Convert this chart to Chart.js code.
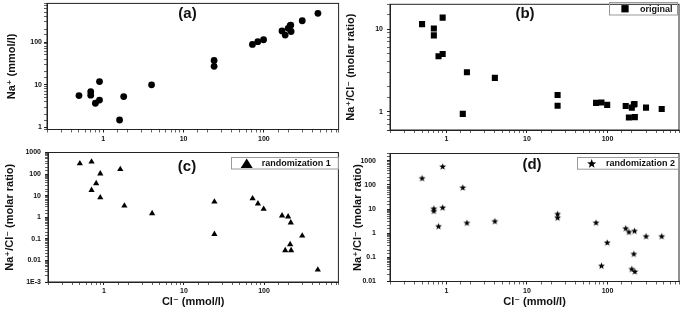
<!DOCTYPE html>
<html>
<head>
<meta charset="utf-8">
<script src="https://cdn.jsdelivr.net/npm/chart.js@4.4.0/dist/chart.umd.min.js"></script>
<style>
  html, body { margin: 0; padding: 0; background: #fff; }
  body { width: 685px; height: 321px; position: relative; overflow: hidden; }
  canvas { position: absolute; }
  #chart-a { left: 0; top: 0; }
  #chart-b { left: 342px; top: 0; }
  #chart-c { left: 0; top: 146px; }
  #chart-d { left: 342px; top: 146px; }
</style>
</head>
<body>
<canvas id="chart-a" width="342" height="146"></canvas>
<canvas id="chart-b" width="343" height="146"></canvas>
<canvas id="chart-c" width="342" height="175"></canvas>
<canvas id="chart-d" width="343" height="175"></canvas>
<script>
  // Cl- (mmol/l), same samples in all four panels
  const cl = [0.5, 0.7, 0.7, 0.8, 0.9, 0.9, 1.6, 1.8, 4, 24, 24, 72, 84, 99, 168, 184, 200, 212, 218, 216, 300, 470];
  // (a) Na+ (mmol/l)
  const naOriginal = [5.6, 6.9, 5.7, 3.7, 11.9, 4.4, 1.5, 5.3, 10, 37, 27, 88, 102, 113, 182, 145, 209, 241, 176, 249, 314, 469];
  // (b) Na+/Cl- molar ratio
  const ratioOriginal = [11.5, 10.2, 8.4, 4.7, 13.8, 5.0, 0.94, 3.0, 2.57, 1.59, 1.18, 1.28, 1.29, 1.21, 1.17, 0.85, 1.12, 1.22, 0.86, 1.24, 1.12, 1.08];
  // (c) randomization 1
  const ratioRand1 = [310, 370, 18, 37, 105, 8.2, 167, 3.4, 1.5, 5.2, 0.166, 7.4, 4.3, 2.4, 1.19, 0.029, 1.07, 0.055, 0.029, 0.56, 0.138, 0.0037];
  // (d) randomization 2
  const ratioRand2 = [191, 10.5, 8.4, 1.95, 580, 11.6, 78, 2.7, 3.15, 6.3, 4.4, 2.75, 0.045, 0.41, 1.6, 1.13, 0.033, 0.14, 0.026, 1.25, 0.75, 0.75];

  const tickText = { '-3': '1E-3', '-2': '0.01', '-1': '0.1', '0': '1', '1': '10', '2': '100', '3': '1000' };

  const FONT = 'Arial, "Liberation Sans", "DejaVu Sans", sans-serif';
  Chart.defaults.font.family = FONT;
  Chart.defaults.font.weight = 'bold';
  Chart.defaults.color = '#111';
  Chart.defaults.animation = false;

  const isDecade = v => Math.abs(Math.log10(v) - Math.round(Math.log10(v))) < 1e-6;

  function starPath(ctx, cx, cy, R) {
    const r = R * 0.42;
    ctx.beginPath();
    for (let i = 0; i < 10; i++) {
      const rad = i % 2 ? r : R;
      const ang = -Math.PI / 2 + i * Math.PI / 5;
      ctx.lineTo(cx + rad * Math.cos(ang), cy + rad * Math.sin(ang));
    }
    ctx.closePath();
  }

  // filled star used as point style
  const starImg = document.createElement('canvas');
  starImg.width = 9; starImg.height = 9;
  {
    let c = starImg.getContext('2d');
    c.fillStyle = '#000';
    starPath(c, 4.5, 4.8, 3.6);
    c.fill();
  }

  function marker(ctx, style, x, y, s) {
    ctx.fillStyle = '#000';
    if (style === 'rect') {
      ctx.fillRect(x - s / 2, y - s / 2, s, s);
    } else if (style === 'triangle') {
      ctx.beginPath();
      ctx.moveTo(x, y - s * 0.4);
      ctx.lineTo(x + s / 2, y + s * 0.4);
      ctx.lineTo(x - s / 2, y + s * 0.4);
      ctx.closePath();
      ctx.fill();
    } else {
      starPath(ctx, x, y + 0.5, s / 2);
      ctx.fill();
    }
  }

  // frame, panel letter and boxed legend
  const decor = {
    id: 'decor',
    afterDatasetsDraw(chart, args, opts) {
      const { ctx, chartArea: a } = chart;
      ctx.save();
      ctx.strokeStyle = '#222';
      ctx.lineWidth = 1;
      ctx.strokeRect(a.left, a.top, a.right - a.left, a.bottom - a.top);

      ctx.fillStyle = '#111';
      ctx.font = 'bold 15px ' + FONT;
      ctx.textAlign = 'center';
      ctx.textBaseline = 'middle';
      ctx.fillText(opts.tag, opts.tagX, opts.tagY);

      if (opts.box) {
        let [x0, y0, x1, y1] = opts.box;
        ctx.strokeStyle = '#999';
        ctx.strokeRect(x0 + 0.5, y0 + 0.5, x1 - x0, y1 - y0);
        marker(ctx, opts.style, opts.mx, (y0 + y1) / 2 + 0.5, opts.ms);
        ctx.fillStyle = '#111';
        ctx.font = 'bold 9px ' + FONT;
        ctx.textAlign = 'left';
        ctx.fillText(chart.data.datasets[0].label, opts.tx, (y0 + y1) / 2 + 1);
      }
      ctx.restore();
    }
  };

  function logAxis(min, max, fixed, tickPad, title, titlePad) {
    return {
      type: 'logarithmic',
      min: min,
      max: max,
      border: { color: '#222', width: 1 },
      grid: {
        drawOnChartArea: false,
        tickLength: 3,
        tickColor: '#222',
        tickWidth: c => (c.tick && isDecade(c.tick.value) ? 1 : 0.7)
      },
      ticks: {
        autoSkip: false,
        maxRotation: 0,
        padding: tickPad,
        color: '#111',
        font: { size: 7, weight: 'bold' },
        callback: v => (isDecade(v) ? (tickText[Math.round(Math.log10(v))] ?? '') : '')
      },
      title: {
        display: !!title,
        text: title,
        color: '#111',
        font: { size: 11, weight: 'bold' },
        padding: { top: titlePad, bottom: titlePad }
      },
      afterFit(scale) {
        if (scale.isHorizontal()) scale.height = fixed;
        else scale.width = fixed;
        scale.paddingLeft = scale.paddingRight = scale.paddingTop = scale.paddingBottom = 0;
      }
    };
  }

  function panel(id, label, yValues, point, xAxis, yAxis, padding, deco) {
    return new Chart(document.getElementById(id), {
      type: 'scatter',
      data: {
        datasets: [{
          label: label,
          data: cl.map((x, i) => ({ x: x, y: yValues[i] })),
          backgroundColor: '#000',
          borderColor: '#000',
          borderWidth: 0,
          pointStyle: point.style,
          pointRadius: point.radius,
          pointHoverRadius: point.radius
        }]
      },
      options: {
        responsive: false,
        devicePixelRatio: 1,
        layout: { padding: padding },
        scales: { x: xAxis, y: yAxis },
        plugins: { legend: { display: false }, tooltip: { enabled: false }, decor: deco }
      },
      plugins: [decor]
    });
  }

  const yTitle = 'Na\u207A/Cl\u207B (molar ratio)';
  const xTitle = 'Cl\u207B (mmol/l)';

  panel('chart-a', 'original', naOriginal, { style: 'circle', radius: 3.4 },
    logAxis(0.2, 850, 16.5, 2, '', 0),
    logAxis(0.9, 800, 47, 2, 'Na\u207A (mmol/l)', 5),
    { left: 0, top: 1, right: 2, bottom: 0 },
    { tag: '(a)', tagX: 187.5, tagY: 14 });

  panel('chart-b', 'original', ratioOriginal, { style: 'rect', radius: 4.3 },
    logAxis(0.2, 770, 16, 2, '', 0),
    logAxis(0.6, 20, 48, 4, yTitle, 2),
    { left: 0, top: 1, right: 6, bottom: 0 },
    { tag: '(b)', tagX: 183, tagY: 14, box: [267, 2, 335, 14.5], style: 'rect', mx: 283, ms: 7.3, tx: 298 });

  panel('chart-c', 'randomization 1', ratioRand1, { style: 'triangle', radius: 3.6 },
    logAxis(0.2, 850, 27, 2, xTitle, 0),
    logAxis(0.001, 1000, 48, 4, yTitle, 3),
    { left: 0, top: 6.5, right: 2, bottom: 12 },
    { tag: '(c)', tagX: 187, tagY: 20.5, box: [231, 11, 338, 22.5], style: 'triangle', mx: 246.7, ms: 12, tx: 261.7 });

  panel('chart-d', 'randomization 2', ratioRand2, { style: starImg, radius: 4 },
    logAxis(0.2, 770, 27, 2, xTitle, 0),
    logAxis(0.01, 2000, 48, 11, yTitle, 9),
    { left: 0, top: 7.5, right: 6, bottom: 12.5 },
    { tag: '(d)', tagX: 190, tagY: 19, box: [235, 11, 336, 22.7], style: 'star', mx: 249.7, ms: 9.5, tx: 264 });
</script>
</body>
</html>
